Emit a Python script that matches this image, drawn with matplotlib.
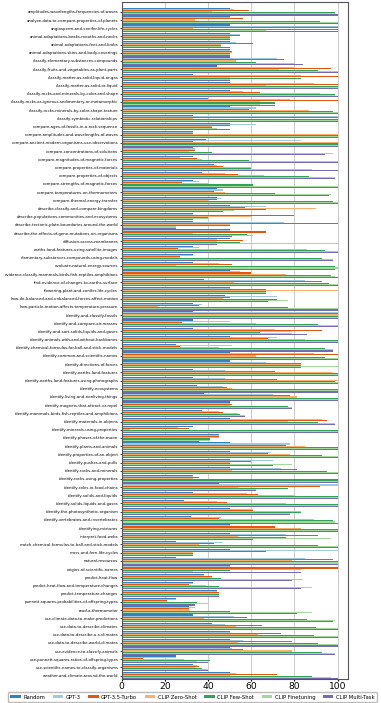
import numpy as np
import matplotlib
matplotlib.use("Agg")
import matplotlib.pyplot as plt

categories = [
    "amplitudes-wavelengths-frequencies-of-waves",
    "analyze-data-to-compare-properties-of-planets",
    "angiosperm-and-conifer-life-cycles",
    "animal-adaptations-beaks-mouths-and-necks",
    "animal-adaptations-feet-and-limbs",
    "animal-adaptations-skins-and-body-coverings",
    "classify-elementary-substances-compounds",
    "classify-fruits-and-vegetables-as-plant-parts",
    "classify-matter-as-solid-liquid-or-gas",
    "classify-matter-as-solid-or-liquid",
    "classify-rocks-and-minerals-by-color-and-shape",
    "classify-rocks-as-igneous-sedimentary-or-metamorphic",
    "classify-rocks-minerals-by-color-shape-texture",
    "classify-symbiotic-relationships",
    "compare-ages-of-fossils-in-a-rock-sequence",
    "compare-amplitudes-and-wavelengths-of-waves",
    "compare-ancient-modern-organisms-use-observations",
    "compare-concentrations-of-solutions",
    "compare-magnitudes-of-magnetic-forces",
    "compare-properties-of-materials",
    "compare-properties-of-objects",
    "compare-strengths-of-magnetic-forces",
    "compare-temperatures-on-thermometers",
    "compare-thermal-energy-transfer",
    "describe-classify-and-compare-kingdoms",
    "describe-populations-communities-and-ecosystems",
    "describe-tectonic-plate-boundaries-around-the-world",
    "describe-the-effects-of-gene-mutations-on-organisms",
    "diffusion-across-membranes",
    "earths-land-features-using-satellite-images",
    "elementary-substances-compounds-using-models",
    "evaluate-natural-energy-sources",
    "evidence-classify-mammals-birds-fish-reptiles-amphibians",
    "find-evidence-of-changes-to-earths-surface",
    "flowering-plant-and-conifer-life-cycles",
    "how-do-balanced-and-unbalanced-forces-affect-motion",
    "how-particle-motion-affects-temperature-pressure",
    "identify-and-classify-fossils",
    "identify-and-compare-air-masses",
    "identify-and-sort-solids-liquids-and-gases",
    "identify-animals-with-and-without-backbones",
    "identify-chemical-formulas-for-ball-and-stick-models",
    "identify-common-and-scientific-names",
    "identify-directions-of-forces",
    "identify-earths-land-features",
    "identify-earths-land-features-using-photographs",
    "identify-ecosystems",
    "identify-living-and-nonliving-things",
    "identify-magnets-that-attract-or-repel",
    "identify-mammals-birds-fish-reptiles-and-amphibians",
    "identify-materials-in-objects",
    "identify-minerals-using-properties",
    "identify-phases-of-the-moon",
    "identify-plants-and-animals",
    "identify-properties-of-an-object",
    "identify-pushes-and-pulls",
    "identify-rocks-and-minerals",
    "identify-rocks-using-properties",
    "identify-roles-in-food-chains",
    "identify-solids-and-liquids",
    "identify-solids-liquids-and-gases",
    "identify-the-photosynthetic-organism",
    "identify-vertebrates-and-invertebrates",
    "identifying-mixtures",
    "interpret-food-webs",
    "match-chemical-formulas-to-ball-and-stick-models",
    "moss-and-fern-life-cycles",
    "natural-resources",
    "origins-of-scientific-names",
    "predict-heat-flow",
    "predict-heat-flow-and-temperature-changes",
    "predict-temperature-changes",
    "punnett-squares-probabilities-of-offspring-types",
    "read-a-thermometer",
    "use-climate-data-to-make-predictions",
    "use-data-to-describe-climates",
    "use-data-to-describe-u-s-climates",
    "use-data-to-describe-world-climates",
    "use-evidence-to-classify-animals",
    "use-punnett-squares-ratios-of-offspring-types",
    "use-scientific-names-to-classify-organisms",
    "weather-and-climate-around-the-world",
]

series_names = ["Random", "GPT-3", "GPT-3.5-Turbo", "CLIP Zero-Shot",
                "CLIP Few-Shot", "CLIP Finetuning", "CLIP Multi-Task"]

random_vals = [50, 50, 50, 50, 50, 50, 50, 44, 33, 50, 50, 40, 50, 33, 50, 33, 39, 33, 33, 43,
               37, 33, 44, 44, 50, 33, 33, 50, 50, 33, 33, 33, 50, 38, 50, 48, 33, 33, 33, 33,
               50, 25, 50, 50, 33, 33, 35, 38, 50, 37, 50, 33, 45, 50, 50, 50, 50, 33, 45, 33,
               29, 50, 32, 50, 50, 25, 50, 25, 50, 38, 33, 44, 25, 31, 33, 42, 50, 50, 50, 25,
               33, 50]
gpt3_vals = [52, 50, 100, 55, 53, 50, 72, 80, 83, 89, 56, 78, 62, 100, 62, 33, 83, 34, 27, 44,
             48, 36, 47, 46, 67, 33, 75, 50, 44, 36, 33, 45, 55, 85, 50, 72, 37, 100, 50, 71,
             72, 51, 89, 67, 48, 48, 47, 70, 50, 45, 93, 26, 45, 78, 69, 70, 74, 33, 100, 58,
             44, 61, 46, 50, 76, 47, 100, 85, 50, 38, 33, 44, 25, 34, 52, 48, 50, 56, 51, 25,
             35, 53]
gpt35_vals = [59, 56, 100, 55, 61, 51, 75, 97, 100, 100, 64, 100, 59, 100, 50, 33, 33, 34, 35, 47,
              54, 28, 43, 44, 57, 80, 100, 67, 56, 26, 27, 51, 60, 93, 67, 50, 36, 100, 28, 93,
              68, 27, 100, 83, 71, 72, 49, 78, 51, 47, 95, 31, 45, 76, 68, 60, 81, 36, 92, 63,
              49, 61, 45, 71, 91, 43, 67, 98, 100, 42, 31, 45, 21, 31, 58, 65, 74, 79, 56, 10,
              36, 72]
zeroshot_vals = [42, 34, 33, 50, 46, 51, 53, 73, 50, 67, 92, 64, 87, 33, 42, 100, 100, 31, 37, 60,
                 66, 40, 48, 40, 90, 60, 50, 33, 44, 86, 27, 25, 76, 52, 100, 47, 17, 100, 62, 79,
                 85, 45, 62, 83, 98, 100, 51, 81, 50, 54, 77, 4, 45, 85, 78, 50, 51, 33, 54, 80,
                 76, 83, 89, 83, 54, 36, 33, 79, 83, 42, 39, 45, 21, 31, 38, 53, 63, 54, 79, 29,
                 34, 50]
fewshot_vals = [99, 92, 100, 50, 46, 50, 62, 91, 83, 100, 99, 71, 98, 100, 42, 100, 100, 42, 59, 60,
                87, 61, 71, 98, 67, 40, 50, 58, 55, 94, 93, 99, 97, 96, 67, 72, 77, 100, 91, 64,
                100, 94, 94, 83, 100, 99, 100, 100, 77, 55, 91, 100, 41, 100, 93, 50, 95, 100, 77, 100,
                100, 83, 98, 100, 76, 91, 33, 100, 50, 46, 45, 45, 35, 50, 86, 90, 89, 91, 93, 41,
                37, 88]
finetune_vals = [99, 100, 67, 50, 46, 50, 80, 100, 50, 100, 99, 64, 100, 100, 44, 100, 100, 98, 100, 88,
                 99, 100, 97, 100, 52, 40, 25, 61, 100, 100, 98, 100, 99, 100, 67, 77, 100, 100, 100, 79,
                 100, 98, 100, 100, 100, 100, 100, 100, 79, 57, 99, 100, 41, 100, 100, 79, 100, 100, 62, 100,
                 100, 78, 99, 100, 97, 100, 33, 100, 33, 84, 88, 45, 40, 88, 99, 100, 100, 100, 99, 35,
                 40, 97]
multitask_vals = [100, 100, 100, 50, 50, 50, 84, 100, 50, 100, 100, 71, 100, 100, 50, 100, 100, 94, 100, 100,
                  99, 100, 96, 100, 47, 33, 25, 51, 44, 100, 98, 99, 100, 100, 67, 68, 100, 100, 100, 86,
                  100, 98, 100, 83, 100, 100, 100, 100, 79, 57, 99, 100, 36, 100, 100, 70, 100, 100, 62, 100,
                  100, 78, 100, 100, 61, 100, 33, 100, 83, 79, 83, 45, 34, 81, 98, 100, 100, 100, 99, 40,
                  40, 100]

all_series = [random_vals, gpt3_vals, gpt35_vals, zeroshot_vals,
              fewshot_vals, finetune_vals, multitask_vals]
colors = ["#3182bd", "#9ecae1", "#e6550d", "#fdae6b", "#31a354", "#a1d99b", "#756bb1"]

fig = plt.figure(figsize=(3.81, 7.03), dpi=100)
ax = fig.add_axes([0.3194, 0.0341, 0.5948, 0.9626])

n = len(categories)
y = np.arange(n)
h = 0.13
for j, (vals, name, c) in enumerate(zip(all_series, series_names, colors)):
    ax.barh(y + (j - 3) * h, vals, height=h, color=c, label=name, zorder=2, linewidth=0)

ax.set_yticks(y)
ax.set_yticklabels(categories, fontsize=2.75)
ax.set_ylim(n - 1 + 0.42, -1.16)
ax.set_xlim(0, 105)
ax.set_xticks([0, 20, 40, 60, 80, 100])
ax.tick_params(axis='x', labelsize=6.6, length=1.5, pad=0.5)
ax.tick_params(axis='y', length=1.5, width=0.5, pad=1)
ax.grid(axis='x', color='#cccccc', linewidth=0.8, zorder=0)
ax.set_axisbelow(True)
for s in ax.spines.values():
    s.set_color('#555555')
    s.set_linewidth(0.8)

handles, labels = ax.get_legend_handles_labels()
fig.legend(handles, labels, loc='lower center', bbox_to_anchor=(0.505, 0.002), ncol=7,
           fontsize=3.75, frameon=True, handlelength=2.0, handleheight=0.6,
           columnspacing=1.5, handletextpad=0.45, borderpad=0.4, borderaxespad=0.0,
           fancybox=True, edgecolor='#aaaaaa')

fig.savefig("out.png", dpi=100)
